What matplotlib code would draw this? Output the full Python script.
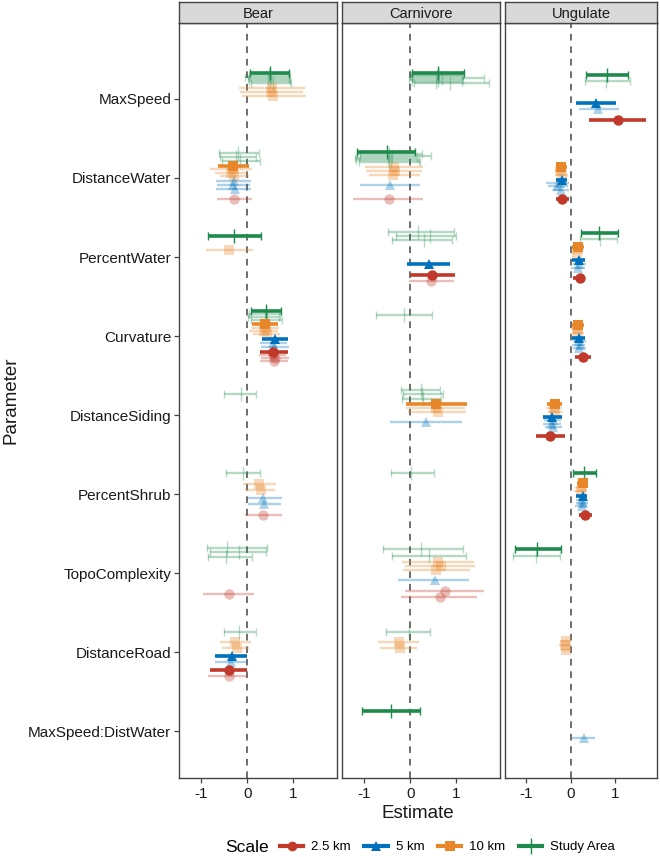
import matplotlib
matplotlib.use("Agg")
import matplotlib.pyplot as plt
from matplotlib.lines import Line2D
from matplotlib.offsetbox import HPacker

plt.rcParams['font.family'] = ['Liberation Sans', 'DejaVu Sans']

# ---------------- data ----------------
parameters = ["MaxSpeed", "DistanceWater", "PercentWater", "Curvature",
              "DistanceSiding", "PercentShrub", "TopoComplexity",
              "DistanceRoad", "MaxSpeed:DistWater"]
facets = ["Bear", "Carnivore", "Ungulate"]
scales = ["Study Area", "10 km", "5 km", "2.5 km"]          # dodge order (top -> bottom)
legend_order = ["2.5 km", "5 km", "10 km", "Study Area"]
scale_colors = {"2.5 km": "#C0392B", "5 km": "#0072BD", "10 km": "#E8872A", "Study Area": "#1E8A4C"}
scale_markers = {"2.5 km": "o", "5 km": "^", "10 km": "s", "Study Area": "|"}

# rows: (parameter, scale, estimate, lower, upper, selected_model)
bear_rows = [
    ("MaxSpeed", "Study Area", 0.49, 0.07, 0.91, True),
    ("MaxSpeed", "Study Area", 0.47, 0.03, 0.91, False),
    ("MaxSpeed", "Study Area", 0.52, -0.05, 0.93, False),
    ("MaxSpeed", "Study Area", 0.45, 0.02, 0.90, False),
    ("MaxSpeed", "Study Area", 0.50, 0.05, 0.94, False),
    ("MaxSpeed", "Study Area", 0.55, 0.08, 0.95, False),
    ("MaxSpeed", "10 km", 0.54, -0.17, 1.25, False),
    ("MaxSpeed", "10 km", 0.52, -0.15, 1.22, False),
    ("MaxSpeed", "10 km", 0.56, -0.12, 1.27, False),
    ("DistanceWater", "Study Area", -0.20, -0.61, 0.25, False),
    ("DistanceWater", "Study Area", -0.25, -0.58, 0.20, False),
    ("DistanceWater", "Study Area", -0.15, -0.55, 0.28, False),
    ("DistanceWater", "10 km", -0.30, -0.64, 0.04, True),
    ("DistanceWater", "10 km", -0.30, -0.81, 0.10, False),
    ("DistanceWater", "10 km", -0.35, -0.70, 0.02, False),
    ("DistanceWater", "10 km", -0.28, -0.60, 0.05, False),
    ("DistanceWater", "5 km", -0.29, -0.67, 0.08, False),
    ("DistanceWater", "5 km", -0.31, -0.65, 0.06, False),
    ("DistanceWater", "5 km", -0.27, -0.68, 0.09, False),
    ("DistanceWater", "2.5 km", -0.28, -0.65, 0.10, False),
    ("PercentWater", "Study Area", -0.28, -0.85, 0.30, True),
    ("PercentWater", "10 km", -0.40, -0.90, 0.13, False),
    ("Curvature", "Study Area", 0.41, 0.09, 0.74, True),
    ("Curvature", "Study Area", 0.40, 0.05, 0.72, False),
    ("Curvature", "Study Area", 0.38, 0.02, 0.70, False),
    ("Curvature", "Study Area", 0.43, 0.08, 0.75, False),
    ("Curvature", "10 km", 0.38, 0.10, 0.68, True),
    ("Curvature", "10 km", 0.40, 0.08, 0.70, False),
    ("Curvature", "10 km", 0.36, 0.05, 0.66, False),
    ("Curvature", "10 km", 0.42, 0.12, 0.72, False),
    ("Curvature", "5 km", 0.60, 0.33, 0.89, True),
    ("Curvature", "5 km", 0.55, 0.28, 0.86, False),
    ("Curvature", "5 km", 0.58, 0.30, 0.90, False),
    ("Curvature", "2.5 km", 0.57, 0.27, 0.89, True),
    ("Curvature", "2.5 km", 0.55, 0.25, 0.85, False),
    ("Curvature", "2.5 km", 0.60, 0.30, 0.90, False),
    ("Curvature", "2.5 km", 0.58, 0.28, 0.88, False),
    ("DistanceSiding", "Study Area", -0.14, -0.50, 0.20, False),
    ("PercentShrub", "Study Area", -0.10, -0.45, 0.27, False),
    ("PercentShrub", "10 km", 0.26, -0.10, 0.62, False),
    ("PercentShrub", "10 km", 0.30, -0.05, 0.60, False),
    ("PercentShrub", "5 km", 0.35, 0.00, 0.75, False),
    ("PercentShrub", "5 km", 0.37, 0.02, 0.73, False),
    ("PercentShrub", "2.5 km", 0.34, -0.05, 0.75, False),
    ("TopoComplexity", "Study Area", -0.43, -0.88, 0.42, False),
    ("TopoComplexity", "Study Area", -0.17, -0.80, 0.40, False),
    ("TopoComplexity", "Study Area", -0.45, -0.85, 0.10, False),
    ("TopoComplexity", "2.5 km", -0.40, -0.96, 0.15, False),
    ("DistanceRoad", "Study Area", -0.17, -0.51, 0.19, False),
    ("DistanceRoad", "10 km", -0.26, -0.59, 0.08, False),
    ("DistanceRoad", "10 km", -0.22, -0.55, 0.05, False),
    ("DistanceRoad", "5 km", -0.34, -0.69, 0.00, True),
    ("DistanceRoad", "5 km", -0.36, -0.70, 0.00, False),
    ("DistanceRoad", "2.5 km", -0.39, -0.81, 0.00, True),
    ("DistanceRoad", "2.5 km", -0.40, -0.84, 0.00, False),
]

carnivore_rows = [
    ("MaxSpeed", "Study Area", 0.60, 0.04, 1.17, True),
    ("MaxSpeed", "Study Area", 0.62, 0.02, 1.15, False),
    ("MaxSpeed", "Study Area", 0.58, 0.00, 1.12, False),
    ("MaxSpeed", "Study Area", 0.70, 0.03, 1.60, False),
    ("MaxSpeed", "Study Area", 0.60, -0.02, 1.15, False),
    ("MaxSpeed", "Study Area", 0.55, 0.05, 1.12, False),
    ("MaxSpeed", "Study Area", 0.87, 0.08, 1.72, False),
    ("DistanceWater", "Study Area", -0.51, -1.16, 0.10, True),
    ("DistanceWater", "Study Area", -0.45, -1.15, 0.25, False),
    ("DistanceWater", "Study Area", -0.40, -1.10, 0.45, False),
    ("DistanceWater", "Study Area", -0.48, -1.19, 0.15, False),
    ("DistanceWater", "Study Area", -0.42, -1.17, 0.20, False),
    ("DistanceWater", "Study Area", -0.46, -1.12, 0.22, False),
    ("DistanceWater", "10 km", -0.35, -0.97, 0.27, False),
    ("DistanceWater", "10 km", -0.32, -0.95, 0.25, False),
    ("DistanceWater", "10 km", -0.38, -0.90, 0.22, False),
    ("DistanceWater", "5 km", -0.44, -1.08, 0.21, False),
    ("DistanceWater", "2.5 km", -0.47, -1.24, 0.27, False),
    ("PercentWater", "Study Area", 0.18, -0.49, 0.95, False),
    ("PercentWater", "Study Area", 0.42, -0.30, 1.00, False),
    ("PercentWater", "Study Area", 0.30, -0.40, 0.90, False),
    ("PercentWater", "5 km", 0.40, -0.06, 0.86, True),
    ("PercentWater", "2.5 km", 0.48, 0.00, 0.97, True),
    ("PercentWater", "2.5 km", 0.45, -0.02, 0.95, False),
    ("Curvature", "Study Area", -0.13, -0.75, 0.48, False),
    ("DistanceSiding", "Study Area", 0.23, -0.20, 0.65, False),
    ("DistanceSiding", "Study Area", 0.25, -0.15, 0.71, False),
    ("DistanceSiding", "Study Area", 0.28, -0.18, 0.68, False),
    ("DistanceSiding", "10 km", 0.57, -0.08, 1.24, True),
    ("DistanceSiding", "10 km", 0.55, -0.10, 1.20, False),
    ("DistanceSiding", "10 km", 0.60, -0.05, 1.22, False),
    ("DistanceSiding", "5 km", 0.35, -0.44, 1.13, False),
    ("PercentShrub", "Study Area", 0.02, -0.41, 0.51, False),
    ("TopoComplexity", "Study Area", 0.24, -0.58, 1.15, False),
    ("TopoComplexity", "Study Area", 0.40, -0.40, 1.22, False),
    ("TopoComplexity", "10 km", 0.60, -0.18, 1.38, False),
    ("TopoComplexity", "10 km", 0.67, -0.12, 1.41, False),
    ("TopoComplexity", "10 km", 0.57, -0.15, 1.30, False),
    ("TopoComplexity", "5 km", 0.53, -0.26, 1.27, False),
    ("TopoComplexity", "2.5 km", 0.76, -0.12, 1.60, False),
    ("TopoComplexity", "2.5 km", 0.64, -0.20, 1.45, False),
    ("DistanceRoad", "Study Area", -0.02, -0.52, 0.44, False),
    ("DistanceRoad", "10 km", -0.25, -0.70, 0.19, False),
    ("DistanceRoad", "10 km", -0.22, -0.65, 0.15, False),
    ("MaxSpeed:DistWater", "Study Area", -0.42, -1.05, 0.21, True),
]

ungulate_rows = [
    ("MaxSpeed", "Study Area", 0.82, 0.35, 1.30, True),
    ("MaxSpeed", "Study Area", 0.80, 0.33, 1.33, False),
    ("MaxSpeed", "5 km", 0.57, 0.12, 1.03, True),
    ("MaxSpeed", "5 km", 0.62, 0.18, 1.10, False),
    ("MaxSpeed", "2.5 km", 1.07, 0.41, 1.71, True),
    ("DistanceWater", "10 km", -0.21, -0.34, -0.08, True),
    ("DistanceWater", "10 km", -0.23, -0.36, -0.10, False),
    ("DistanceWater", "10 km", -0.20, -0.33, -0.06, False),
    ("DistanceWater", "5 km", -0.20, -0.33, -0.08, True),
    ("DistanceWater", "5 km", -0.25, -0.55, -0.03, False),
    ("DistanceWater", "5 km", -0.30, -0.50, -0.05, False),
    ("DistanceWater", "5 km", -0.22, -0.40, -0.04, False),
    ("DistanceWater", "2.5 km", -0.19, -0.33, -0.04, True),
    ("PercentWater", "Study Area", 0.65, 0.24, 1.08, True),
    ("PercentWater", "Study Area", 0.66, 0.22, 1.05, False),
    ("PercentWater", "10 km", 0.16, 0.03, 0.30, True),
    ("PercentWater", "10 km", 0.15, 0.02, 0.28, False),
    ("PercentWater", "5 km", 0.18, 0.03, 0.33, True),
    ("PercentWater", "5 km", 0.20, 0.05, 0.35, False),
    ("PercentWater", "5 km", 0.17, 0.02, 0.32, False),
    ("PercentWater", "2.5 km", 0.22, 0.05, 0.33, True),
    ("Curvature", "10 km", 0.16, 0.04, 0.30, True),
    ("Curvature", "10 km", 0.15, 0.02, 0.28, False),
    ("Curvature", "10 km", 0.17, 0.03, 0.30, False),
    ("Curvature", "5 km", 0.20, 0.04, 0.33, True),
    ("Curvature", "5 km", 0.19, 0.05, 0.34, False),
    ("Curvature", "5 km", 0.21, 0.03, 0.33, False),
    ("Curvature", "5 km", 0.20, 0.06, 0.35, False),
    ("Curvature", "2.5 km", 0.29, 0.11, 0.46, True),
    ("DistanceSiding", "10 km", -0.36, -0.53, -0.19, True),
    ("DistanceSiding", "10 km", -0.38, -0.55, -0.20, False),
    ("DistanceSiding", "10 km", -0.35, -0.52, -0.18, False),
    ("DistanceSiding", "5 km", -0.41, -0.63, -0.20, True),
    ("DistanceSiding", "5 km", -0.40, -0.60, -0.22, False),
    ("DistanceSiding", "5 km", -0.42, -0.62, -0.21, False),
    ("DistanceSiding", "5 km", -0.39, -0.58, -0.20, False),
    ("DistanceSiding", "2.5 km", -0.46, -0.78, -0.13, True),
    ("PercentShrub", "Study Area", 0.30, 0.06, 0.57, True),
    ("PercentShrub", "10 km", 0.27, 0.14, 0.38, True),
    ("PercentShrub", "10 km", 0.25, 0.10, 0.36, False),
    ("PercentShrub", "10 km", 0.23, 0.08, 0.35, False),
    ("PercentShrub", "5 km", 0.27, 0.12, 0.38, True),
    ("PercentShrub", "5 km", 0.26, 0.13, 0.37, False),
    ("PercentShrub", "5 km", 0.28, 0.12, 0.39, False),
    ("PercentShrub", "5 km", 0.25, 0.11, 0.36, False),
    ("PercentShrub", "2.5 km", 0.33, 0.19, 0.48, True),
    ("TopoComplexity", "Study Area", -0.75, -1.26, -0.22, True),
    ("TopoComplexity", "Study Area", -0.78, -1.30, -0.25, False),
    ("DistanceRoad", "10 km", -0.11, -0.24, -0.01, False),
    ("DistanceRoad", "10 km", -0.13, -0.26, -0.02, False),
    ("DistanceRoad", "10 km", -0.10, -0.22, 0.00, False),
    ("MaxSpeed:DistWater", "5 km", 0.30, 0.03, 0.54, False),
]

facet_rows = {"Bear": bear_rows, "Carnivore": carnivore_rows, "Ungulate": ungulate_rows}

# ---------------- layout ----------------
W, H = 660, 857
fig = plt.figure(figsize=(W / 100, H / 100), dpi=100)

panel_x = [179, 342, 505]
panel_widths = [158, 158, 152]
top_px, bot_px = 23, 778
strip_top = 2

xlim = (-1.48, 1.95)
ylim = (8.59, -0.96)
dodge_w = 0.70
sub_w = dodge_w / len(scales)

spine_col = "#444444"
text_col = "#1a1a1a"
tick_fs = 11

for fi, facet in enumerate(facets):
    x0, pw = panel_x[fi], panel_widths[fi]
    ax = fig.add_axes([x0 / W, 1 - bot_px / H, pw / W, (bot_px - top_px) / H])
    sax = fig.add_axes([x0 / W, 1 - top_px / H, pw / W, (top_px - strip_top) / H])
    sax.set_xticks([]); sax.set_yticks([])
    sax.set_facecolor("#D9D9D9")
    for s in sax.spines.values():
        s.set_color(spine_col); s.set_linewidth(1.0)
    sax.text(0.5, 0.26, facet, ha="center", va="baseline", fontsize=10.5, color=text_col,
             transform=sax.transAxes)

    ax.set_xlim(*xlim)
    ax.set_ylim(*ylim)
    ax.axvline(0, color="#555555", lw=1.2, ls=(0, (4, 3.5)), zorder=1)

    rows = facet_rows[facet]
    for pi, par in enumerate(parameters):
        for si, sc in enumerate(scales):
            grp = [r for r in rows if r[0] == par and r[1] == sc]
            n = len(grp)
            if n == 0:
                continue
            center = dodge_w * ((si + 0.5) / len(scales) - 0.5)
            for k, (_, _, est, lo, hi, bold) in enumerate(grp):
                off = center + sub_w * ((k + 0.5) / n - 0.5) * (0.9 if n > 1 else 0)
                y = pi + off
                col = scale_colors[sc]
                mk = scale_markers[sc]
                if bold:
                    alpha, lw, ct, z = 1.0, 2.6, 2.6, 5
                else:
                    alpha, lw, ct, z = 0.32, 1.7, 1.7, 3
                if mk == "|":
                    ms_use, mew = 10, 1.0
                else:
                    ms_use, mew = 7.5, 0
                ax.errorbar([est], [y], xerr=[[est - lo], [hi - est]], fmt=mk,
                            color=col, ecolor=col, alpha=alpha, elinewidth=lw,
                            capsize=2.8, capthick=ct, markersize=ms_use,
                            markeredgewidth=mew, markeredgecolor=col, zorder=z)

    ax.set_xticks([-1, 0, 1])
    ax.set_xticklabels(["-1", "0", "1"])
    ax.tick_params(axis="x", length=3.5, width=0.9, color=spine_col, labelsize=tick_fs,
                   labelcolor=text_col, pad=3)
    ax.set_yticks(range(len(parameters)))
    if fi == 0:
        ax.set_yticklabels(parameters)
        ax.tick_params(axis="y", length=3.5, width=0.9, color=spine_col, labelsize=tick_fs,
                       labelcolor=text_col, pad=2)
    else:
        ax.set_yticklabels([])
        ax.tick_params(axis="y", length=0)
    for s in ax.spines.values():
        s.set_color(spine_col); s.set_linewidth(1.0)

fig.text((179 + 657) / 2 / W, 1 - 813 / H, "Estimate", ha="center", va="center",
         fontsize=13.5, color=text_col)
fig.text(11 / W, 1 - 400 / H, "Parameter", ha="center", va="center", rotation=90,
         fontsize=13.5, color=text_col)

handles = []
for sc in legend_order:
    mk = scale_markers[sc]
    if mk == "|":
        h = Line2D([], [], color=scale_colors[sc], lw=3, marker="|", markersize=11,
                   markeredgewidth=1.0)
    else:
        h = Line2D([], [], color=scale_colors[sc], lw=3, marker=mk, markersize=7,
                   markeredgewidth=0)
    handles.append(h)
leg = fig.legend(handles, legend_order, loc="center", ncol=4,
                 bbox_to_anchor=(420 / W, 1 - 847 / H), frameon=False,
                 fontsize=9.5, handlelength=1.8, handletextpad=0.6, columnspacing=1.0,
                 title="Scale", title_fontsize=12.5)
title_box = leg._legend_title_box
entries = leg._legend_handle_box
leg._legend_box._children = [HPacker(pad=0, sep=8, align="center",
                                     children=[title_box, entries])]

fig.savefig("out.png", dpi=100, facecolor="white")
